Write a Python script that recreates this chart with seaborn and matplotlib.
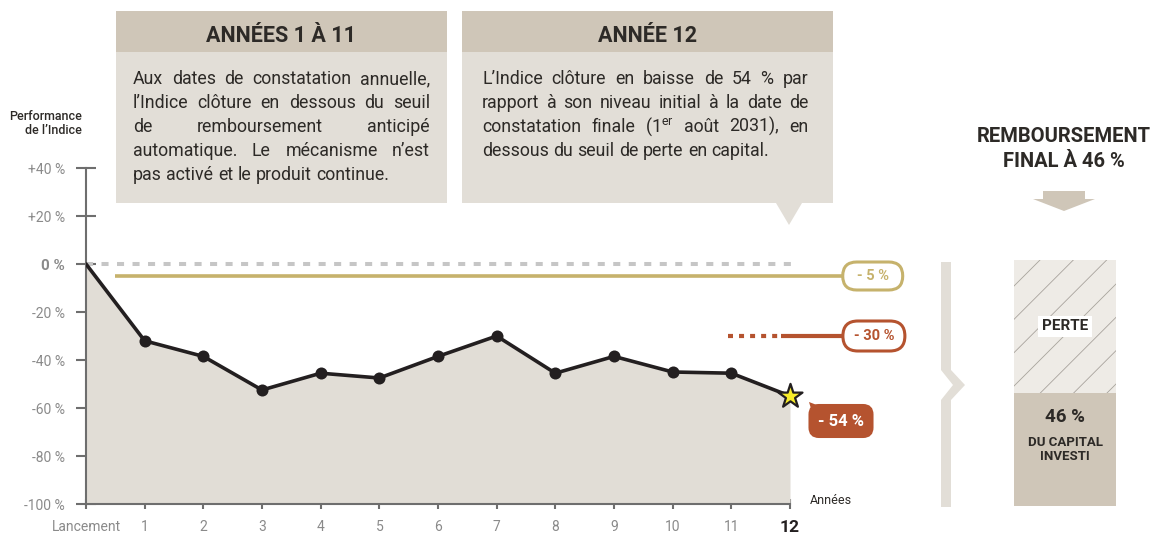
import numpy as np
import pandas as pd
import matplotlib
matplotlib.use('Agg')
import matplotlib.pyplot as plt
import seaborn as sns
from matplotlib.patches import Polygon, FancyBboxPatch, Rectangle

# ---- data ----
years = list(range(13))
year_labels = ['Lancement'] + [str(i) for i in range(1, 13)]
perf = [0, -32, -38.5, -52.5, -45.5, -47.5, -38.5, -30, -45.5, -38.5, -45, -45.5, -55]
ytick_vals = [40, 20, 0, -20, -40, -60, -80, -100]
ytick_labels = ['+40 %', '+20 %', '0 %', '-20 %', '-40 %', '-60 %', '-80 %', '-100 %']
seuil_rappel = -5
seuil_perte = -30
final_label = '- 54 %'
capital_rendu = 46
perte = 54

box1_title = 'ANNÉES 1 À 11'
box1_lines = ['Aux dates de constatation annuelle,',
              'l’Indice clôture en dessous du seuil',
              'de remboursement anticipé',
              'automatique. Le mécanisme n’est',
              'pas activé et le produit continue.']
box2_title = 'ANNÉE 12'
box2_lines = ['L’Indice clôture en baisse de 54 % par',
              'rapport à son niveau initial à la date de',
              'constatation finale (1$^{\\mathrm{er}}$ août 2031), en',
              'dessous du seuil de perte en capital.']

# colours
INK = '#231f20'
FILL = '#e1ddd6'
BODY = '#e2ded7'
HEAD = '#cfc6b8'
GOLD = '#c6b26c'
RUST = '#b5532f'
AXIS = '#6e6e6e'
TICK = '#8a8a8a'
DARK = '#2d2a27'
YELLOW = '#f7ec2a'

sns.set_theme(style='white')
plt.rcParams['font.family'] = ['Roboto', 'DejaVu Sans']
plt.rcParams['mathtext.fontset'] = 'custom'
plt.rcParams['mathtext.rm'] = 'Roboto'
plt.rcParams['hatch.linewidth'] = 0.6

W, H = 1156, 536
fig = plt.figure(figsize=(W / 100, H / 100), dpi=100)

# ========== main chart ==========
ax = fig.add_axes([86 / W, (H - 504) / H, 704 / W, 336 / H])
ax.set_facecolor('none')
ax.set_xlim(0, 12)
ax.set_ylim(-100, 40)

ax.fill_between(years, perf, -100, color=FILL, lw=0, zorder=1)
ax.axhline(0, xmin=0, xmax=12.1 / 12, color='#c6c6c6', lw=2.9,
           linestyle=(0, (1.75, 2.1)), clip_on=False, zorder=2)

# thresholds
ax.plot([0.5, 12.9], [seuil_rappel] * 2, color=GOLD, lw=2.6, solid_capstyle='butt',
        clip_on=False, zorder=2)
ax.plot([10.95, 11.85], [seuil_perte] * 2, color=RUST, lw=3, linestyle=(0, (1.2, 1.45)),
        clip_on=False, zorder=2)
ax.plot([11.85, 12.9], [seuil_perte] * 2, color=RUST, lw=3, solid_capstyle='butt',
        clip_on=False, zorder=2)

sns.lineplot(x=years, y=perf, color=INK, lw=2.6, ax=ax, zorder=4)
sns.scatterplot(x=years[1:12], y=perf[1:12], s=75, color=INK, edgecolor=INK,
                linewidth=0, ax=ax, zorder=5)
sns.scatterplot(x=years[12:], y=perf[12:], marker='*', s=330, color=YELLOW,
                edgecolor=INK, linewidth=1.6, ax=ax, zorder=6, clip_on=False)

sns.despine(ax=ax)
for s in ['left', 'bottom']:
    ax.spines[s].set_color(AXIS)
    ax.spines[s].set_linewidth(1.5)
ax.set_yticks(ytick_vals)
ax.set_yticklabels(ytick_labels)
ax.set_xticks(years)
ax.set_xticklabels(year_labels)
ax.tick_params(axis='y', left=True, direction='inout', length=14, width=1.5,
               color=AXIS, labelcolor=TICK, labelsize=10, pad=8)
ax.tick_params(axis='x', bottom=True, direction='inout', length=7.5, width=1.5,
               color=AXIS, labelcolor=TICK, labelsize=10, pad=8)
ax.get_yticklabels()[2].set_fontweight('bold')
ax.get_yticklabels()[2].set_fontsize(11)
lab12 = ax.get_xticklabels()[12]
lab12.set_fontweight('bold')
lab12.set_color(INK)
lab12.set_fontsize(12.5)
ax.set_xlabel('')
ax.set_ylabel('')

# ========== overlay in pixel coordinates ==========
ov = fig.add_axes([0, 0, 1, 1], zorder=3)
ov.set_xlim(0, W)
ov.set_ylim(H, 0)
ov.axis('off')
ov.patch.set_alpha(0)


def to_px(x, y):
    dx, dy = ax.transData.transform((x, y))
    return dx, H - dy


renderer = fig.canvas.get_renderer()


def justified(lines, x0, x1, y_first, dy, **kw):
    for i, line in enumerate(lines):
        y = y_first + i * dy
        words = line.split(' ')
        objs = [ov.text(0, y, w, ha='left', va='baseline', **kw) for w in words]
        widths = [t.get_window_extent(renderer).width for t in objs]
        if i == len(lines) - 1 or len(words) == 1:
            gap = kw.get('fontsize', 12) * 100 / 72 * 0.25
        else:
            gap = (x1 - x0 - sum(widths)) / (len(words) - 1)
        x = x0
        for t, w in zip(objs, widths):
            t.set_x(x)
            x += w + gap


def info_box(x0, x1, y0, y1, title, lines, tx0, tx1):
    ov.add_patch(Rectangle((x0, y0), x1 - x0, y1 - y0, fc=BODY, lw=0))
    ov.add_patch(Rectangle((x0, y0), x1 - x0, 41, fc=HEAD, lw=0))
    ov.text((x0 + x1) / 2, y0 + 31, title, ha='center', va='baseline',
            fontsize=15.5, fontweight='bold', color=DARK)
    justified(lines, tx0, tx1, y0 + 73, 24, fontsize=12.8, color=DARK)


info_box(116, 447, 11, 203, box1_title, box1_lines, 133, 430)
info_box(462, 833, 11, 203, box2_title, box2_lines, 482, 808)
xp, _ = to_px(12, 0)
ov.add_patch(Polygon([(xp - 14, 203), (xp + 12, 203), (xp - 1, 225)], closed=True,
                     fc=BODY, lw=0))


def pill(cx, cy, w, h, text, ec, fc, tc, size, r=None):
    r = h / 2 if r is None else r
    ov.add_patch(FancyBboxPatch((cx - w / 2, cy - h / 2), w, h,
                                boxstyle=f'round,pad=0,rounding_size={r}',
                                fc=fc, ec=ec, lw=2.2))
    ov.text(cx, cy, text, ha='center', va='center', fontsize=size,
            fontweight='bold', color=tc)


cx, cy = to_px(13.41, seuil_rappel)
pill(cx, cy, 60, 28, f'- {abs(seuil_rappel)} %', GOLD, 'white', GOLD, 10.5)
cx, cy = to_px(13.43, seuil_perte)
pill(cx, cy, 62, 30, f'- {abs(seuil_perte)} %', RUST, 'white', RUST, 10.5)
sx, sy = to_px(12, perf[12])
ov.add_patch(Polygon([(sx + 19, sy + 6), (sx + 22, sy + 16), (sx + 32, sy + 11)],
                     closed=True, fc=RUST, lw=0))
pill(sx + 51, sy + 25, 62, 31, final_label, RUST, RUST, 'white', 12, r=9)

# axis captions
ov.text(82, 116, 'Performance', ha='right', va='center', fontsize=9,
        fontweight='medium', color=DARK)
ov.text(82, 131, 'de l’Indice', ha='right', va='center', fontsize=9,
        fontweight='medium', color=DARK)
ov.text(xp + 20, 501, 'Années', ha='left', va='center', fontsize=9, color=DARK)

# right panel
ov.text(1064, 142, 'REMBOURSEMENT', ha='center', va='baseline', fontsize=14.5,
        fontweight='bold', color=DARK)
ov.text(1064, 167, f'FINAL À {capital_rendu} %', ha='center', va='baseline',
        fontsize=14.5, fontweight='bold', color=DARK)
ov.add_patch(Polygon([(1043, 191), (1085, 191), (1085, 199), (1095, 199), (1064, 211),
                      (1033, 199), (1043, 199)], closed=True, fc=HEAD, lw=0))
ov.add_patch(Polygon([(941, 262), (951, 262), (951, 370), (965, 385), (951, 400),
                      (951, 507), (941, 507), (941, 400), (953, 385), (941, 370)],
                     closed=True, fc=BODY, lw=0))

bax = fig.add_axes([1014 / W, (H - 506) / H, 102 / W, 246 / H])
bax.set_xlim(-0.5, 0.5)
bax.set_ylim(0, 100)
bax.axis('off')
bax.bar(0, capital_rendu, width=1, color=HEAD, lw=0)
bax.bar(0, perte, bottom=capital_rendu, width=1, facecolor='#eeebe6',
        edgecolor='#a8a39c', hatch='/', lw=0)
bax.text(0, capital_rendu + perte / 2, 'PERTE', ha='center', va='center', fontsize=11,
         fontweight='bold', color=DARK,
         bbox=dict(boxstyle='square,pad=0.25', fc='white', ec='none'))
bax.text(0, capital_rendu - 10, f'{capital_rendu} %', ha='center', va='center',
         fontsize=13.5, fontweight='bold', color=DARK)
bax.text(0, capital_rendu - 23, 'DU CAPITAL\nINVESTI', ha='center', va='center',
         fontsize=9.5, fontweight='bold', color=DARK, linespacing=1.15)

fig.savefig('out.png', dpi=100)
